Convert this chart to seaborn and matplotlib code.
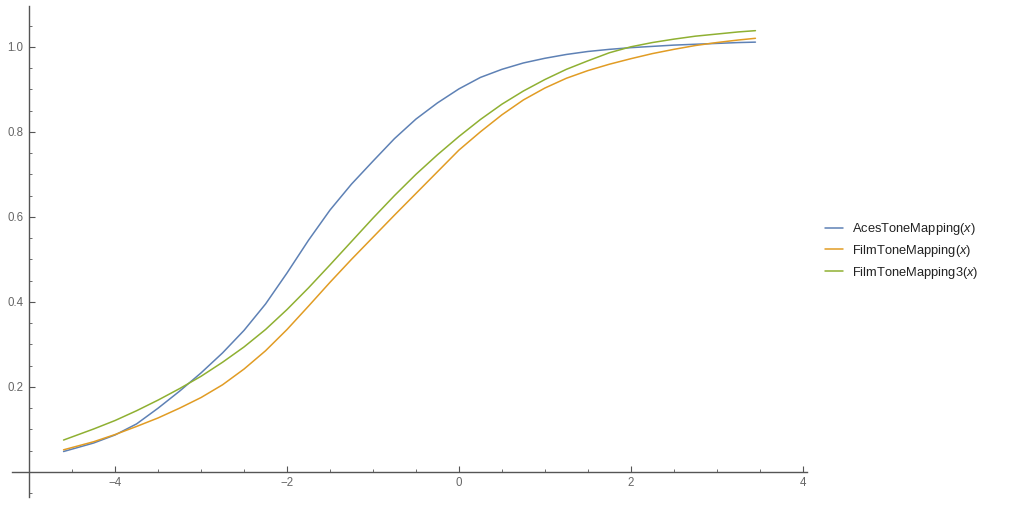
import matplotlib

matplotlib.use("Agg")
import matplotlib.pyplot as plt
import numpy as np
import pandas as pd
import seaborn as sns
from matplotlib.ticker import MultipleLocator, FixedLocator

""" Data read off the reference """
x_grid = [-4.6, -4.25, -4.0, -3.75, -3.5, -3.25, -3.0, -2.75, -2.5, -2.25,
          -2.0, -1.75, -1.5, -1.25, -1.0, -0.75, -0.5, -0.25, 0.0, 0.25,
          0.5, 0.75, 1.0, 1.25, 1.5, 1.75, 2.0, 2.25, 2.5, 2.75, 3.0, 3.25, 3.45]

aces_y = [0.048, 0.068, 0.087, 0.113, 0.150, 0.190, 0.233, 0.280, 0.333, 0.395,
          0.468, 0.545, 0.616, 0.677, 0.731, 0.784, 0.830, 0.868, 0.901, 0.928,
          0.947, 0.962, 0.973, 0.982, 0.989, 0.994, 0.998, 1.001, 1.004, 1.006,
          1.008, 1.010, 1.011]

film_y = [0.052, 0.071, 0.088, 0.107, 0.127, 0.150, 0.175, 0.205, 0.242, 0.285,
          0.335, 0.390, 0.446, 0.500, 0.552, 0.604, 0.655, 0.706, 0.757, 0.800,
          0.840, 0.875, 0.903, 0.926, 0.944, 0.959, 0.972, 0.984, 0.994, 1.003,
          1.010, 1.016, 1.020]

film3_y = [0.075, 0.101, 0.121, 0.144, 0.169, 0.196, 0.225, 0.258, 0.294, 0.335,
           0.382, 0.433, 0.487, 0.542, 0.597, 0.650, 0.700, 0.746, 0.789, 0.829,
           0.865, 0.896, 0.923, 0.947, 0.967, 0.986, 1.000, 1.010, 1.018, 1.025,
           1.030, 1.035, 1.038]

series_names = ["AcesToneMapping", "FilmToneMapping", "FilmToneMapping3"]
x_major = [-4, -2, 0, 2, 4]
x_labels = ["\u22124", "\u22122", "0", "2", "4"]
y_major = [0.2, 0.4, 0.6, 0.8, 1.0]
y_labels = ["0.2", "0.4", "0.6", "0.8", "1.0"]

""" Parameter settings """
colors = ["#5E81B5", "#E19C24", "#8FB032"]
axis_color = "#555555"
label_color = "#666666"
line_width = 1.1

sns.set_theme(style="white")
plt.rcParams["font.family"] = ["Liberation Sans", "DejaVu Sans"]
plt.rcParams["mathtext.fontset"] = "custom"
plt.rcParams["mathtext.it"] = "Liberation Sans:italic"
plt.rcParams["mathtext.rm"] = "Liberation Sans"

frames = []
for name, ys in zip(series_names, [aces_y, film_y, film3_y]):
    frames.append(pd.DataFrame({"x": x_grid, "y": ys, "name": name + "($x$)"}))
df = pd.concat(frames, ignore_index=True)

fig = plt.figure(figsize=(10.17, 5.13), dpi=100)
ax = fig.add_axes([12 / 1017, 1 - 497 / 513, 795 / 1017, 491 / 513])

sns.lineplot(data=df, x="x", y="y", hue="name", palette=colors,
             estimator=None, linewidth=line_width, ax=ax, legend=False)

ax.set_xlim(-5.20, 4.05)
ax.set_ylim(-0.059, 1.096)
ax.set(xlabel="", ylabel="")

# Mathematica-style axes crossing at (-5, 0)
for side in ["top", "right"]:
    ax.spines[side].set_visible(False)
ax.spines["left"].set_position(("data", -5))
ax.spines["bottom"].set_position(("data", 0))
for side in ["left", "bottom"]:
    ax.spines[side].set_color(axis_color)
    ax.spines[side].set_linewidth(1.0)

ax.xaxis.set_major_locator(FixedLocator(x_major))
ax.xaxis.set_minor_locator(MultipleLocator(0.5))
ax.set_xticklabels(x_labels)
ax.yaxis.set_major_locator(FixedLocator(y_major))
ax.yaxis.set_minor_locator(MultipleLocator(0.05))
ax.set_yticklabels(y_labels)

ax.tick_params(which="major", direction="in", length=4, width=0.8,
               color=axis_color, labelcolor=label_color, labelsize=8.3, pad=4)
ax.tick_params(which="minor", direction="in", length=2.5, width=0.6,
               color=axis_color)
ax.tick_params(axis="x", which="both", bottom=True)
ax.tick_params(axis="y", which="both", left=True)

# Legend on the right
handles = [plt.Line2D([], [], color=c, linewidth=line_width) for c in colors]
labels = [n + "($x$)" for n in series_names]
fig.legend(handles, labels, loc="center left",
           bbox_to_anchor=(825 / 1017, 1 - 251 / 513), borderaxespad=0,
           borderpad=0, frameon=False, fontsize=9.3, handlelength=1.4,
           handletextpad=0.7, labelspacing=0.45, labelcolor="#222222")

plt.savefig("out.png", dpi=100)
